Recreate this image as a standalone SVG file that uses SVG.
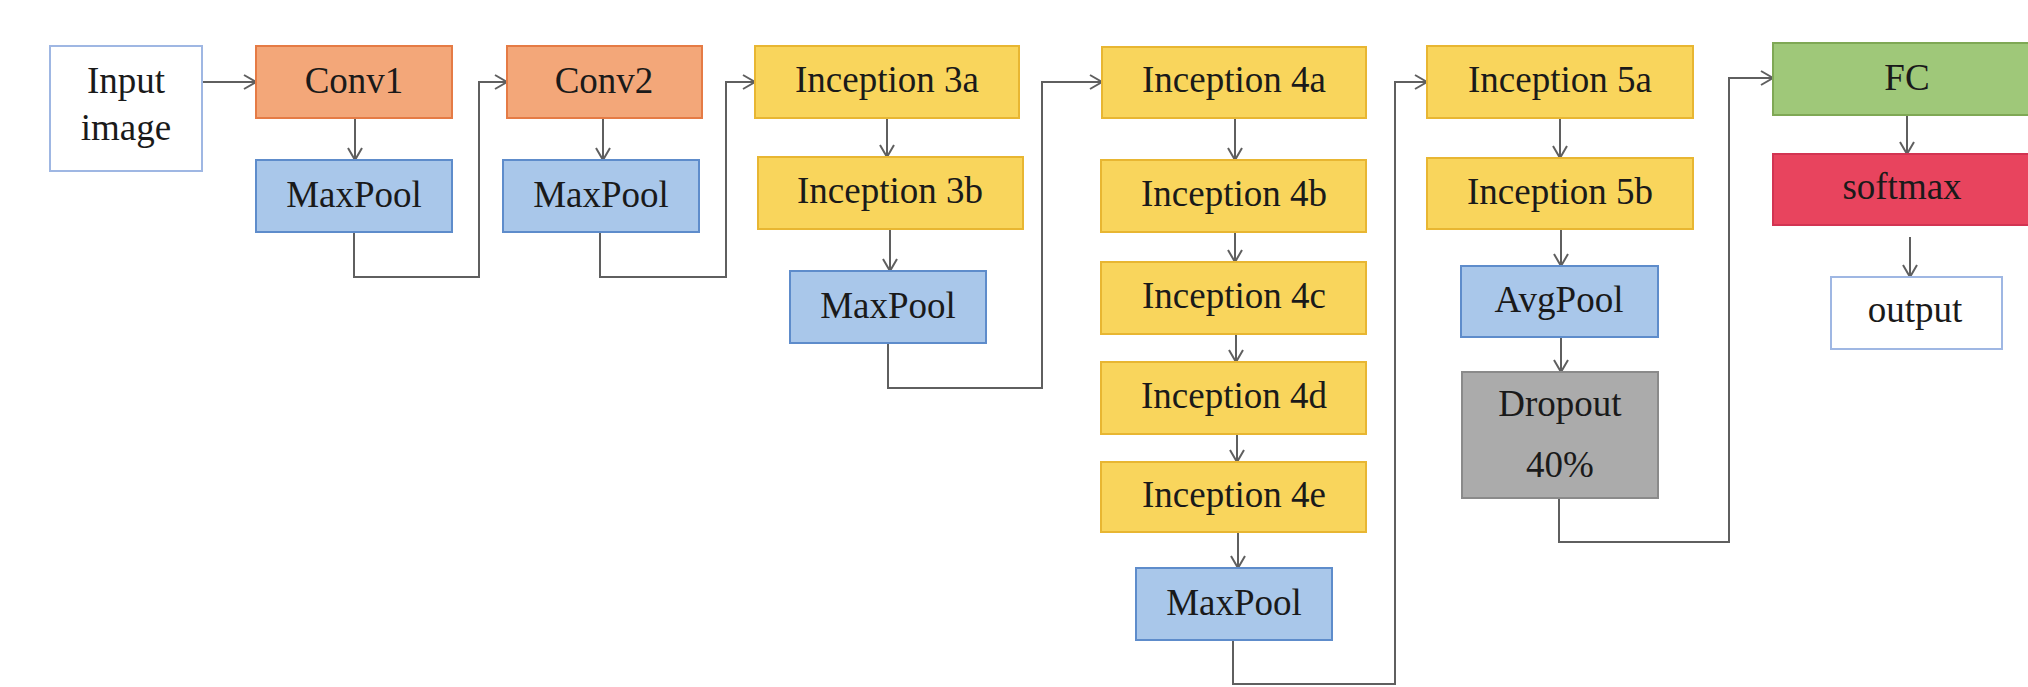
<svg xmlns="http://www.w3.org/2000/svg" width="2028" height="687" viewBox="0 0 2028 687">
<defs>
<style>
.box{stroke-width:2}
.white{fill:#ffffff;stroke:#9fb7e3}
.conv{fill:#f3a779;stroke:#e57b45}
.pool{fill:#a9c7ea;stroke:#5e8ccb}
.inc{fill:#f9d55c;stroke:#e8b632}
.fc{fill:#9fc879;stroke:#7fa855}
.soft{fill:#e8445e;stroke:#d23452}
.drop{fill:#ababab;stroke:#8a8a8a}
text{font-family:"Liberation Serif","Times New Roman",serif;font-size:37px;fill:#1a1a1a;text-anchor:middle}
.conn{fill:none;stroke:#5f5f5f;stroke-width:2;marker-end:url(#arr)}
</style>
<marker id="arr" markerUnits="userSpaceOnUse" markerWidth="16" markerHeight="16" viewBox="0 0 16 16" refX="14" refY="8" orient="auto">
<path d="M2,1 L14,8 L2,15" fill="none" stroke="#5f5f5f" stroke-width="2"/>
</marker>
</defs>
<rect width="2028" height="687" fill="#ffffff"/>
<g id="connectors">
<path class="conn" d="M202,82 H256"/>
<path class="conn" d="M355,118 V160"/>
<path class="conn" d="M354,232 V277 H479 V82 H507"/>
<path class="conn" d="M603,118 V160"/>
<path class="conn" d="M600,232 V277 H726 V82 H755"/>
<path class="conn" d="M887,118 V157"/>
<path class="conn" d="M890,229 V271"/>
<path class="conn" d="M888,343 V388 H1042 V82 H1102"/>
<path class="conn" d="M1235,118 V160"/>
<path class="conn" d="M1235,232 V262"/>
<path class="conn" d="M1236,334 V362"/>
<path class="conn" d="M1237,434 V462"/>
<path class="conn" d="M1238,532 V568"/>
<path class="conn" d="M1233,640 V684 H1395 V82 H1427"/>
<path class="conn" d="M1560,118 V158"/>
<path class="conn" d="M1561,229 V266"/>
<path class="conn" d="M1561,337 V372"/>
<path class="conn" d="M1559,498 V542 H1729 V78 H1773"/>
<path class="conn" d="M1907,115 V154"/>
<path class="conn" d="M1910,237 V277"/>
</g>
<g id="input"><rect class="box white" x="50" y="46" width="152" height="125"/><text x="126" y="93">Input</text><text x="126" y="140">image</text></g>
<g id="conv1"><rect class="box conv" x="256" y="46" width="196" height="72"/><text x="354" y="93">Conv1</text></g>
<g id="maxpool1"><rect class="box pool" x="256" y="160" width="196" height="72"/><text x="354" y="207">MaxPool</text></g>
<g id="conv2"><rect class="box conv" x="507" y="46" width="195" height="72"/><text x="604" y="93">Conv2</text></g>
<g id="maxpool2"><rect class="box pool" x="503" y="160" width="196" height="72"/><text x="601" y="207">MaxPool</text></g>
<g id="inception3a"><rect class="box inc" x="755" y="46" width="264" height="72"/><text x="887" y="92">Inception 3a</text></g>
<g id="inception3b"><rect class="box inc" x="758" y="157" width="265" height="72"/><text x="890" y="203">Inception 3b</text></g>
<g id="maxpool3"><rect class="box pool" x="790" y="271" width="196" height="72"/><text x="888" y="318">MaxPool</text></g>
<g id="inception4a"><rect class="box inc" x="1102" y="47" width="264" height="71"/><text x="1234" y="92">Inception 4a</text></g>
<g id="inception4b"><rect class="box inc" x="1101" y="160" width="265" height="72"/><text x="1234" y="206">Inception 4b</text></g>
<g id="inception4c"><rect class="box inc" x="1101" y="262" width="265" height="72"/><text x="1234" y="308">Inception 4c</text></g>
<g id="inception4d"><rect class="box inc" x="1101" y="362" width="265" height="72"/><text x="1234" y="408">Inception 4d</text></g>
<g id="inception4e"><rect class="box inc" x="1101" y="462" width="265" height="70"/><text x="1234" y="507">Inception 4e</text></g>
<g id="maxpool4"><rect class="box pool" x="1136" y="568" width="196" height="72"/><text x="1234" y="615">MaxPool</text></g>
<g id="inception5a"><rect class="box inc" x="1427" y="46" width="266" height="72"/><text x="1560" y="92">Inception 5a</text></g>
<g id="inception5b"><rect class="box inc" x="1427" y="158" width="266" height="71"/><text x="1560" y="204">Inception 5b</text></g>
<g id="avgpool"><rect class="box pool" x="1461" y="266" width="197" height="71"/><text x="1559" y="312">AvgPool</text></g>
<g id="dropout"><rect class="box drop" x="1462" y="372" width="196" height="126"/><text x="1560" y="416">Dropout</text><text x="1560" y="477">40%</text></g>
<g id="fc"><rect class="box fc" x="1773" y="43" width="268" height="72"/><text x="1907" y="90">FC</text></g>
<g id="softmax"><rect class="box soft" x="1773" y="154" width="268" height="71"/><text x="1902" y="199">softmax</text></g>
<g id="output"><rect class="box white" x="1831" y="277" width="171" height="72"/><text x="1915" y="322">output</text></g>
</svg>
